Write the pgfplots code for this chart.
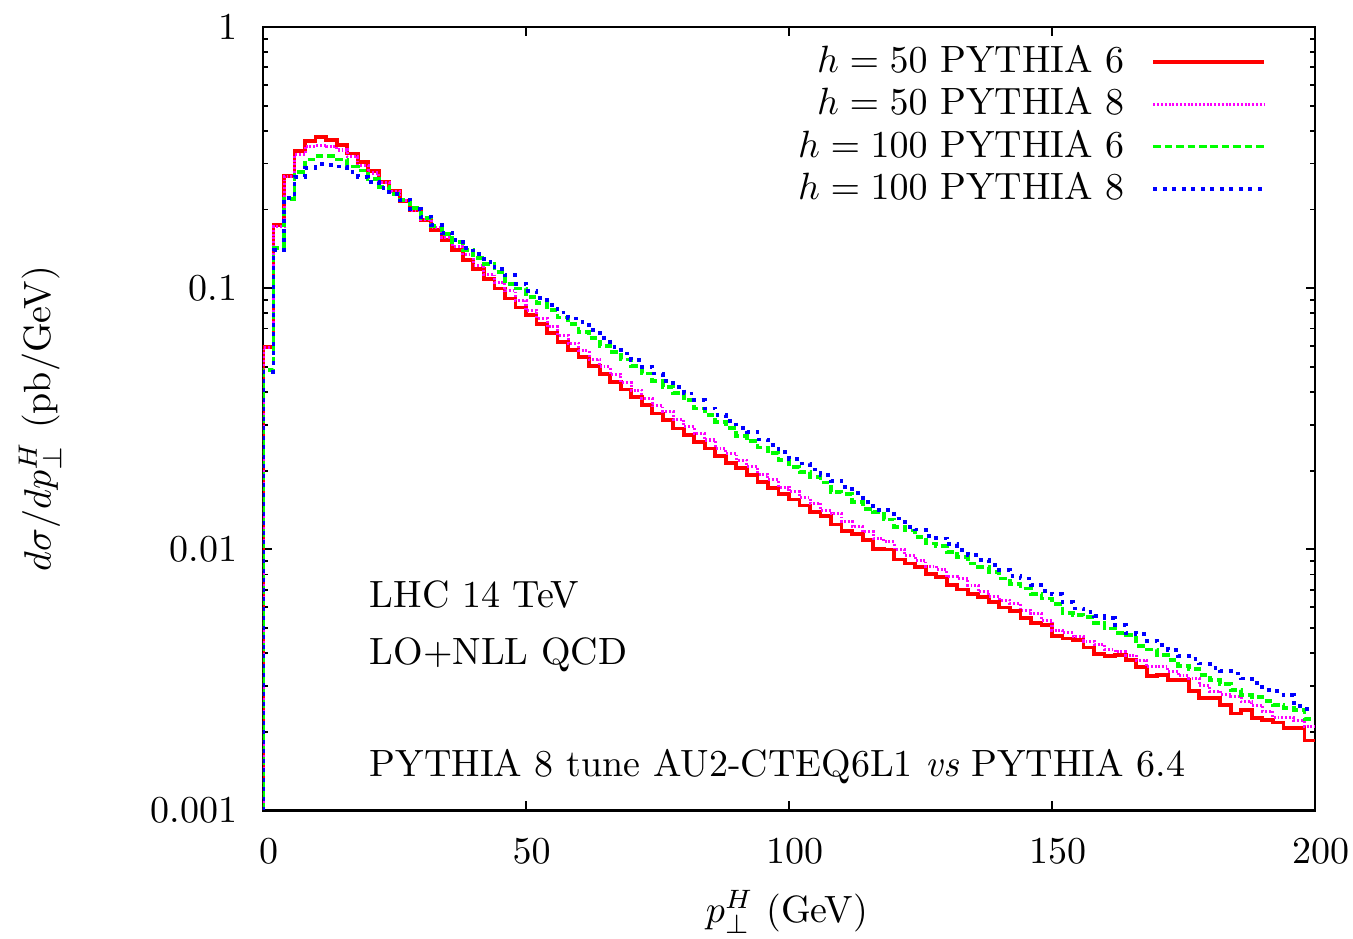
\documentclass[border=0pt]{standalone}
\usepackage{pgfplots}
\pgfplotsset{compat=1.18}
\usepackage{pgfplotstable}
\definecolor{gpred}{rgb}{1,0,0}
\definecolor{gpmag}{rgb}{1,0,1}
\definecolor{gpgreen}{rgb}{0,1,0}
\definecolor{gpblue}{rgb}{0,0,1}
% bin left edge, h=50 P6, h=50 P8, h=100 P6, h=100 P8
\pgfplotstableread{
x r m g b
0 0.001 0.001 0.001 0.001
0 0.0596 0.0590 0.0485 0.0478
2 0.174 0.172 0.142 0.140
4 0.269 0.268 0.220 0.221
6 0.336 0.325 0.279 0.267
8 0.367 0.350 0.311 0.289
10 0.380 0.353 0.320 0.298
12 0.369 0.348 0.320 0.296
14 0.353 0.338 0.311 0.292
16 0.328 0.318 0.292 0.279
18 0.304 0.295 0.282 0.267
20 0.281 0.276 0.262 0.255
22 0.255 0.254 0.244 0.241
24 0.236 0.234 0.229 0.229
26 0.216 0.216 0.217 0.217
28 0.199 0.199 0.202 0.201
30 0.182 0.183 0.185 0.187
32 0.167 0.171 0.173 0.174
34 0.153 0.156 0.161 0.162
36 0.140 0.144 0.150 0.153
38 0.128 0.134 0.140 0.142
40 0.118 0.1225 0.130 0.135
42 0.108 0.113 0.124 0.126
44 0.0997 0.1048 0.1155 0.118
46 0.0913 0.0977 0.104 0.112
48 0.0843 0.0899 0.0997 0.104
50 0.0788 0.0824 0.0926 0.0977
52 0.0728 0.0765 0.0874 0.0918
54 0.0671 0.0711 0.0824 0.0861
56 0.0623 0.0661 0.0772 0.0807
58 0.0579 0.0614 0.0728 0.0765
60 0.0543 0.0575 0.0680 0.0743
62 0.0504 0.0533 0.0642 0.0690
64 0.0468 0.0499 0.0601 0.0642
66 0.0438 0.0468 0.0570 0.0596
68 0.0409 0.0434 0.0533 0.0562
70 0.0384 0.0407 0.0504 0.0530
72 0.0356 0.0378 0.0471 0.0499
74 0.0331 0.0354 0.0440 0.0471
76 0.0312 0.0336 0.0419 0.0440
78 0.0290 0.0314 0.0397 0.0419
80 0.0273 0.0294 0.0372 0.0395
82 0.0258 0.0277 0.0346 0.0372
84 0.0243 0.0262 0.0326 0.0346
86 0.0227 0.0243 0.0307 0.0327
88 0.0214 0.0233 0.0292 0.0309
90 0.0204 0.0219 0.0272 0.0292
92 0.0192 0.0207 0.0260 0.0282
94 0.0181 0.0194 0.0245 0.0263
96 0.0171 0.0185 0.0233 0.0250
98 0.0163 0.0173 0.0219 0.0236
100 0.0155 0.0166 0.0207 0.0222
102 0.0147 0.0158 0.0198 0.0213
104 0.0139 0.0150 0.0189 0.0202
106 0.0134 0.0141 0.0180 0.0192
108 0.01243 0.01369 0.0166 0.0183
110 0.01172 0.01272 0.0163 0.0173
112 0.01142 0.01218 0.0152 0.0164
114 0.01083 0.01165 0.0143 0.0152
116 0.01000 0.01099 0.0139 0.0141
118 0.00997 0.01067 0.0130 0.0141
120 0.00913 0.00997 0.0122 0.0131
122 0.00881 0.00948 0.0118 0.0122
124 0.00855 0.00908 0.01115 0.0119
126 0.00802 0.00861 0.01051 0.01122
128 0.00783 0.00836 0.01027 0.01099
130 0.00728 0.00783 0.00977 0.01045
132 0.00701 0.00772 0.00935 0.00991
134 0.00676 0.00728 0.00881 0.00948
136 0.00657 0.00686 0.00855 0.00908
138 0.00628 0.00657 0.00819 0.00869
140 0.00598 0.00638 0.00772 0.00831
142 0.00580 0.00619 0.00734 0.00790
144 0.00547 0.00584 0.00707 0.00772
146 0.00522 0.00567 0.00676 0.00728
148 0.00511 0.00535 0.00647 0.00692
150 0.00464 0.00489 0.00619 0.00672
152 0.00455 0.00478 0.00570 0.00628
154 0.00448 0.00464 0.00559 0.00593
156 0.00420 0.00444 0.00550 0.00575
158 0.00398 0.00432 0.00522 0.00554
160 0.00390 0.00413 0.00497 0.00547
162 0.00393 0.00404 0.00478 0.00511
164 0.00376 0.00393 0.00468 0.00478
166 0.00354 0.00376 0.00425 0.00472
168 0.00326 0.00354 0.00413 0.00445
170 0.00329 0.00356 0.00393 0.00429
172 0.00315 0.00341 0.00376 0.00412
174 0.00315 0.00327 0.00358 0.00390
176 0.00287 0.00320 0.00347 0.00380
178 0.00270 0.00300 0.00330 0.00365
180 0.00270 0.00286 0.00315 0.00352
182 0.00253 0.00278 0.00304 0.00341
184 0.00235 0.00273 0.00288 0.00334
186 0.00242 0.00260 0.00276 0.00320
188 0.00225 0.00253 0.00272 0.00307
190 0.00221 0.00240 0.00262 0.00288
192 0.00217 0.00226 0.00253 0.00286
194 0.00206 0.00226 0.00247 0.00276
196 0.00206 0.00220 0.00243 0.00250
198 0.00185 0.00209 0.00223 0.00245
200 0.00185 0.00209 0.00223 0.00245
}\histdata
\begin{document}
\begin{tikzpicture}
\begin{axis}[
  scale only axis, width=276.8pt, height=206.1pt,
  ymode=log, xmin=0, xmax=200, ymin=0.001, ymax=1,
  xtick={0,50,100,150,200}, minor x tick num=0,
  ytick={0.001,0.01,0.1,1}, yticklabels={0.001,0.01,0.1,1},
  tick align=inside, major tick length=2.4pt, minor tick length=1.4pt,
  axis line style={line width=0.7pt},
  every tick/.append style={black, line width=0.5pt},
  xticklabel style={yshift=-4pt, xshift=1.5pt},
  yticklabel style={xshift=-3.3pt},
  xlabel={$p_\perp^H$ (GeV)},
  ylabel={$d\sigma/dp_\perp^H$ (pb/GeV)},
  xlabel style={at={(axis description cs:0.498,-0.130)}, anchor=center},
  ylabel style={at={(axis description cs:-0.212,0.5)}, anchor=center},
  legend plot pos=right, legend cell align=right,
  legend style={draw=none, fill=none, at={(axis description cs:1,1)}, anchor=north east,
    xshift=-12.6pt, yshift=-4.6pt, inner sep=0pt, row sep=2.5pt, column sep=7.1pt,
    nodes={inner sep=0pt}},
  legend image code/.code={\draw[#1] (0pt,0pt) -- (29.2pt,0pt);},
]
\addplot[gpred, line width=1pt, const plot mark left] table[x=x,y=r]{\histdata};
\addlegendentry{$h=50$ PYTHIA 6}
\addplot[gpmag, line width=0.8pt, dash pattern=on 0.5pt off 0.5pt, const plot mark left] table[x=x,y=m]{\histdata};
\addlegendentry{$h=50$ PYTHIA 8}
\addplot[gpgreen, line width=1pt, dash pattern=on 2pt off 1pt, const plot mark left] table[x=x,y=g]{\histdata};
\addlegendentry{$h=100$ PYTHIA 6}
\addplot[gpblue, line width=1pt, dash pattern=on 1pt off 1.5pt, const plot mark left] table[x=x,y=b]{\histdata};
\addlegendentry{$h=100$ PYTHIA 8}
\node[anchor=base west, inner sep=0pt] at (axis cs:20.15,0.005995) {LHC 14 TeV};
\node[anchor=base west, inner sep=0pt] at (axis cs:20.15,0.003626) {LO+NLL QCD};
\node[anchor=base west, inner sep=0pt] at (axis cs:20.15,0.001350) {PYTHIA 8 tune AU2-CTEQ6L1 \textit{vs} PYTHIA 6.4};
\end{axis}
\pgfresetboundingbox
\path ([shift={(-69.2pt,-33.7pt)}]current axis.south west) rectangle ([shift={(10pt,7.1pt)}]current axis.north east);
\end{tikzpicture}
\end{document}
